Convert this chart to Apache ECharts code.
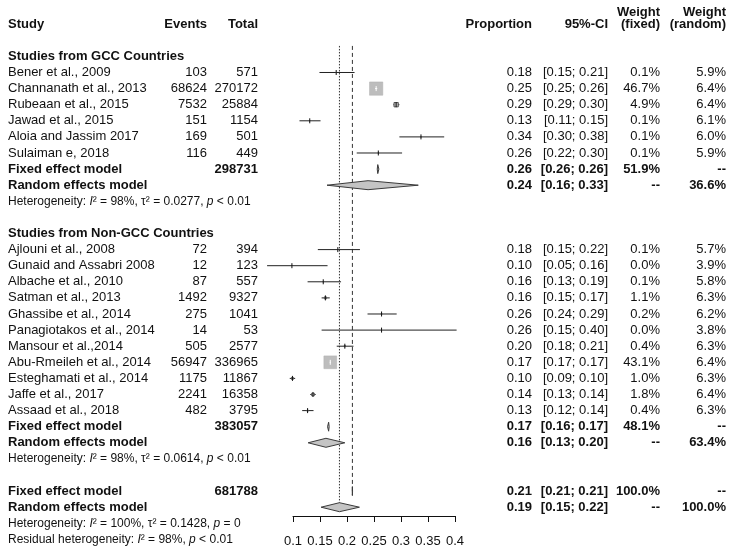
<!DOCTYPE html>
<html><head><meta charset="utf-8">
<script src="https://cdn.jsdelivr.net/npm/echarts@6/dist/echarts.min.js"></script>
<style>html,body{margin:0;padding:0;background:#fff}#c{width:733px;height:557px}</style>
</head><body><div id="c"></div>
<script>
// ---------- data ----------
const xTicks = [0.1, 0.15, 0.2, 0.25, 0.3, 0.35, 0.4];

const gccStudies = ['Bener et al., 2009', 'Channanath et al., 2013', 'Rubeaan et al., 2015', 'Jawad et al., 2015', 'Aloia and Jassim 2017', 'Sulaiman e, 2018'];
const gccEvents  = [103, 68624, 7532, 151, 169, 116];
const gccTotals  = [571, 270172, 25884, 1154, 501, 449];
const gccProp    = [0.180, 0.254, 0.291, 0.131, 0.337, 0.258];
const gccLower   = [0.149, 0.252, 0.286, 0.112, 0.297, 0.218];
const gccUpper   = [0.214, 0.256, 0.297, 0.151, 0.380, 0.302];
const gccWFixed  = [0.1, 46.7, 4.9, 0.1, 0.1, 0.1];
const gccWRandom = [5.9, 6.4, 6.4, 6.1, 6.0, 5.9];

const nonStudies = ['Ajlouni et al., 2008', 'Gunaid and Assabri 2008', 'Albache et al., 2010', 'Satman et al., 2013', 'Ghassibe et al., 2014', 'Panagiotakos et al., 2014', 'Mansour et al.,2014', 'Abu-Rmeileh et al., 2014', 'Esteghamati et al., 2014', 'Jaffe et al., 2017', 'Assaad et al., 2018'];
const nonEvents  = [72, 12, 87, 1492, 275, 14, 505, 56947, 1175, 2241, 482];
const nonTotals  = [394, 123, 557, 9327, 1041, 53, 2577, 336965, 11867, 16358, 3795];
const nonProp    = [0.183, 0.098, 0.156, 0.160, 0.264, 0.264, 0.196, 0.169, 0.099, 0.137, 0.127];
const nonLower   = [0.146, 0.052, 0.127, 0.153, 0.238, 0.153, 0.181, 0.168, 0.094, 0.132, 0.117];
const nonUpper   = [0.224, 0.164, 0.189, 0.168, 0.292, 0.403, 0.212, 0.170, 0.104, 0.142, 0.138];
const nonWFixed  = [0.1, 0.0, 0.1, 1.1, 0.2, 0.0, 0.4, 43.1, 1.0, 1.8, 0.4];
const nonWRandom = [5.7, 3.9, 5.8, 6.3, 6.2, 3.8, 6.3, 6.4, 6.3, 6.4, 6.3];

// summaries: [estimate, lower, upper]
const gccFixedEst = [0.257, 0.256, 0.259];   const gccFixedTotal = 298731; const gccFixedWeight = 51.9;
const gccRandomEst = [0.239, 0.163, 0.332];  const gccRandomWeight = 36.6;
const gccHet = ['98%', '0.0277', '< 0.01'];
const nonFixedEst = [0.166, 0.164, 0.167];   const nonFixedTotal = 383057; const nonFixedWeight = 48.1;
const nonRandomEst = [0.161, 0.128, 0.196];  const nonRandomWeight = 63.4;
const nonHet = ['98%', '0.0614', '< 0.01'];
const allFixedEst = [0.210, 0.2097, 0.2103]; const allFixedTotal = 681788; const allFixedWeight = 100.0;
const allRandomEst = [0.186, 0.152, 0.223];  const allRandomWeight = 100.0;
const allHet = ['100%', '0.1428', '= 0'];
const residualHet = ['98%', '< 0.01'];

// ---------- layout ----------
const FONT = '"Liberation Sans", Arial, Helvetica, sans-serif';
const MAIN = 13, SMALL = 12;
const COLS = {
  study: {x: 8, align: 'left'},
  events: {x: 207, align: 'right'},
  total: {x: 258, align: 'right'},
  prop: {x: 532, align: 'right'},
  ci: {x: 608, align: 'right'},
  wf: {x: 660, align: 'right'},
  wr: {x: 726, align: 'right'}
};
const f2 = v => v.toFixed(2);
const pct = v => v.toFixed(1) + '%';
const ciText = (lo, hi) => '[' + f2(lo) + '; ' + f2(hi) + ']';

const rows = [];
rows.push({y: -3.75, cells: [['wf', 'Weight', true], ['wr', 'Weight', true]]});
rows.push({y: -3, cells: [['study', 'Study', true], ['events', 'Events', true], ['total', 'Total', true], ['prop', 'Proportion', true], ['ci', '95%-CI', true], ['wf', '(fixed)', true], ['wr', '(random)', true]]});

function hetRich(h) {
  return '{n|Heterogeneity: }{i|I}{n|\u00b2 = ' + h[0] + ', \u03c4\u00b2 = ' + h[1] + ', }{i|p}{n| ' + h[2] + '}';
}

function addGroup(start, title, names, ev, tot, p, lo, hi, wf, wr, fTot, fEst, fW, rEst, rW, het) {
  let y = start;
  rows.push({y: y - 1, cells: [['study', title, true]]});
  for (let i = 0; i < names.length; i++) {
    rows.push({
      y: y + i,
      cells: [['study', names[i], false], ['events', String(ev[i]), false], ['total', String(tot[i]), false],
              ['prop', f2(p[i]), false], ['ci', ciText(lo[i], hi[i]), false], ['wf', pct(wf[i]), false], ['wr', pct(wr[i]), false]],
      mark: {type: 'study', est: p[i], lo: lo[i], hi: hi[i], w: wf[i]}
    });
  }
  y += names.length;
  rows.push({y: y, cells: [['study', 'Fixed effect model', true], ['total', String(fTot), true], ['prop', f2(fEst[0]), true], ['ci', ciText(fEst[1], fEst[2]), true], ['wf', pct(fW), true], ['wr', '--', true]],
             mark: {type: 'diamond', est: fEst[0], lo: fEst[1], hi: fEst[2]}});
  rows.push({y: y + 1, cells: [['study', 'Random effects model', true], ['prop', f2(rEst[0]), true], ['ci', ciText(rEst[1], rEst[2]), true], ['wf', '--', true], ['wr', pct(rW), true]],
             mark: {type: 'diamond', est: rEst[0], lo: rEst[1], hi: rEst[2]}});
  rows.push({y: y + 2, het: hetRich(het)});
  return y + 4;
}

let next = addGroup(0, 'Studies from GCC Countries', gccStudies, gccEvents, gccTotals, gccProp, gccLower, gccUpper, gccWFixed, gccWRandom,
                    gccFixedTotal, gccFixedEst, gccFixedWeight, gccRandomEst, gccRandomWeight, gccHet);
next = addGroup(next + 1, 'Studies from Non-GCC Countries', nonStudies, nonEvents, nonTotals, nonProp, nonLower, nonUpper, nonWFixed, nonWRandom,
                nonFixedTotal, nonFixedEst, nonFixedWeight, nonRandomEst, nonRandomWeight, nonHet);
const yAll = next;
rows.push({y: yAll, cells: [['study', 'Fixed effect model', true], ['total', String(allFixedTotal), true], ['prop', f2(allFixedEst[0]), true], ['ci', ciText(allFixedEst[1], allFixedEst[2]), true], ['wf', pct(allFixedWeight), true], ['wr', '--', true]],
           mark: {type: 'diamond', est: allFixedEst[0], lo: allFixedEst[1], hi: allFixedEst[2]}});
rows.push({y: yAll + 1, cells: [['study', 'Random effects model', true], ['prop', f2(allRandomEst[0]), true], ['ci', ciText(allRandomEst[1], allRandomEst[2]), true], ['wf', '--', true], ['wr', pct(allRandomWeight), true]],
           mark: {type: 'diamond', est: allRandomEst[0], lo: allRandomEst[1], hi: allRandomEst[2]}});
rows.push({y: yAll + 2, het: hetRich(allHet)});
rows.push({y: yAll + 3, het: '{n|Residual heterogeneity: }{i|I}{n|\u00b2 = ' + residualHet[0] + ', }{i|p}{n| ' + residualHet[1] + '}'});

const ROW_TOP = -1.65;
const RICH = {
  n: {fontSize: SMALL, fontFamily: FONT, fill: '#111'},
  i: {fontSize: SMALL, fontFamily: FONT, fontStyle: 'italic', fill: '#111'}
};

function renderRow(params, api) {
  const row = rows[params.dataIndex];
  const yp = api.coord([xTicks[0], row.y])[1];
  const xp = v => api.coord([v, row.y])[0];
  const ch = [];
  if (row.cells) {
    row.cells.forEach(c => {
      const col = COLS[c[0]];
      ch.push({type: 'text', x: col.x, y: yp, silent: true,
        style: {text: c[1], fill: '#111', fontSize: MAIN, fontWeight: c[2] ? 'bold' : 'normal', fontFamily: FONT,
                align: col.align, verticalAlign: 'middle'}});
    });
  }
  if (row.het) {
    ch.push({type: 'text', x: COLS.study.x, y: yp, silent: true,
      style: {text: row.het, rich: RICH, fontSize: SMALL, fontFamily: FONT, fill: '#111', align: 'left', verticalAlign: 'middle'}});
  }
  const m = row.mark;
  if (m && m.type === 'study') {
    const cx = xp(m.est), x1 = xp(m.lo), x2 = xp(m.hi);
    const s = m.w > 0 ? 13.3 * Math.sqrt(m.w / 46.7) : 0;
    ch.push({type: 'line', silent: true, shape: {x1: x1, y1: yp, x2: x2, y2: yp}, style: {stroke: '#222', lineWidth: 1}});
    if (s > 0) {
      ch.push({type: 'rect', silent: true, shape: {x: cx - s / 2, y: yp - s / 2, width: s, height: s},
               style: {fill: '#bdbdbd', stroke: s > 6 ? '#b0b0b0' : '#555', lineWidth: s > 6 ? 0.5 : 1}});
    }
    const inside = s > 6;
    if (inside) {
      const a = Math.max(x1, cx - s / 2), b = Math.min(x2, cx + s / 2);
      ch.push({type: 'line', silent: true, shape: {x1: a, y1: yp, x2: b, y2: yp}, style: {stroke: '#ffffff', lineWidth: 1}});
    }
    ch.push({type: 'line', silent: true, shape: {x1: cx, y1: yp - 2.5, x2: cx, y2: yp + 2.5},
             style: {stroke: inside ? '#ffffff' : '#111', lineWidth: 1}});
  } else if (m && m.type === 'diamond') {
    const h = 4.5;
    ch.push({type: 'polygon', silent: true,
      shape: {points: [[xp(m.lo), yp], [xp(m.est), yp - h], [xp(m.hi), yp], [xp(m.est), yp + h]]},
      style: {fill: '#c4c4c4', stroke: '#3a3a3a', lineWidth: 1}});
  }
  return {type: 'group', children: ch};
}

function renderRef(params, api) {
  const top = api.coord([xTicks[0], ROW_TOP])[1];
  const fx = api.coord([allFixedEst[0], 0])[0];
  const rx = api.coord([allRandomEst[0], 0])[0];
  const fBottom = api.coord([xTicks[0], yAll + 0.25])[1];
  const rBottom = api.coord([xTicks[0], yAll + 1 - 0.28])[1];
  return {type: 'group', children: [
    {type: 'line', silent: true, shape: {x1: fx, y1: top, x2: fx, y2: fBottom}, style: {stroke: '#333', lineWidth: 1, lineDash: [4, 3]}},
    {type: 'line', silent: true, shape: {x1: rx, y1: top, x2: rx, y2: rBottom}, style: {stroke: '#333', lineWidth: 1, lineDash: [1.5, 1.5]}}
  ]};
}

const chart = echarts.init(document.getElementById('c'), null, {renderer: 'canvas'});
const option = {
  animation: false,
  backgroundColor: '#ffffff',
  grid: {left: 293, right: 278, top: 8.1, bottom: 41, containLabel: false},
  xAxis: {
    type: 'value', position: 'bottom', min: xTicks[0], max: xTicks[xTicks.length - 1], interval: 0.05,
    axisLine: {show: true, onZero: false, lineStyle: {color: '#111', width: 1}},
    axisTick: {show: true, length: 6, lineStyle: {color: '#111', width: 1}},
    splitLine: {show: false},
    axisLabel: {color: '#111', fontSize: MAIN, fontFamily: FONT, margin: 19,
      formatter: v => { let best = xTicks[0]; xTicks.forEach(t => { if (Math.abs(t - v) < Math.abs(best - v)) best = t; }); return String(best); }}
  },
  yAxis: {type: 'value', inverse: true, min: -4, max: 27.547, show: false},
  series: [
    {type: 'custom', clip: false, renderItem: renderRef, data: [[allFixedEst[0], 0]], encode: {x: 0, y: 1}, silent: true},
    {type: 'custom', clip: false, renderItem: renderRow, data: rows.map(r => [0.25, r.y]), encode: {x: 0, y: 1}, silent: true}
  ]
};
chart.setOption(option);
</script>
</body></html>
